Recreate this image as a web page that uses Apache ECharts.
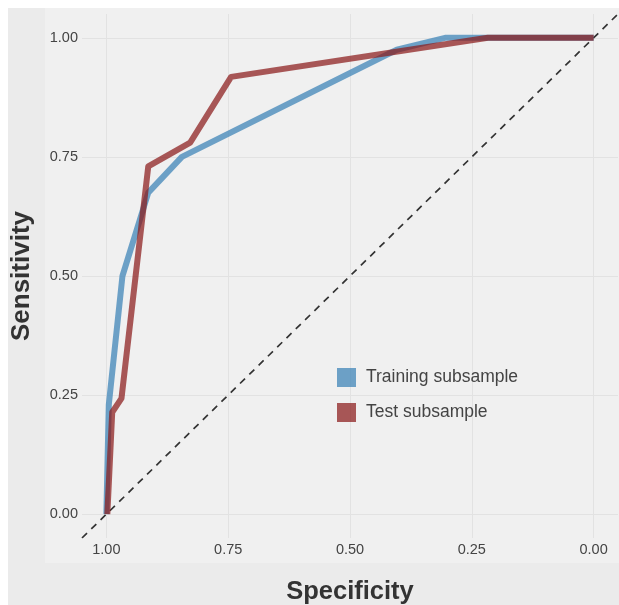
<!DOCTYPE html>
<html>
<head>
<meta charset="utf-8">
<script src="https://cdn.jsdelivr.net/npm/echarts@6/dist/echarts.min.js"></script>
<style>
  html, body { margin: 0; padding: 0; background: #fff; }
  #chart { width: 619px; height: 605px; }
</style>
</head>
<body>
<div id="chart"></div>
<script>
// [specificity, sensitivity] pairs
const trainingPoints = [
  [1.00, 0.00], [0.995, 0.23], [0.967, 0.50], [0.914, 0.675],
  [0.845, 0.75], [0.404, 0.975], [0.305, 1.00], [0.00, 1.00]
];
const testPoints = [
  [0.998, 0.00], [0.988, 0.214], [0.969, 0.243], [0.914, 0.73],
  [0.828, 0.78], [0.744, 0.918], [0.217, 1.00], [0.00, 1.00]
];
const chanceLine = [[1.05, -0.05], [-0.05, 1.05]];
const tickValues = [0, 0.25, 0.5, 0.75, 1];
const seriesNames = ["Training subsample", "Test subsample"];

const chart = echarts.init(document.getElementById("chart"));

chart.setOption({
  backgroundColor: "#fff",
  animation: false,
  graphic: [
    { type: "rect", z: -10, shape: { x: 8, y: 8, width: 611, height: 597 }, style: { fill: "#ebebeb" } },
    { type: "rect", z: -9, shape: { x: 45, y: 8, width: 574, height: 555 }, style: { fill: "#f0f0f0" } }
  ],
  grid: { left: 82, right: 1, top: 14, bottom: 67, outerBoundsMode: "none" },
  legend: {
    data: seriesNames,
    orient: "vertical",
    left: 332,
    top: 363,
    icon: "rect",
    itemWidth: 19,
    itemHeight: 19,
    itemGap: 16,
    textStyle: { fontFamily: "Liberation Sans", fontSize: 17.5, color: "#444", padding: [0, 0, 0, 5] }
  },
  xAxis: {
    type: "value",
    inverse: true,
    min: -0.05,
    max: 1.05,
    name: "Specificity",
    nameLocation: "middle",
    nameGap: 41,
    nameTextStyle: { fontFamily: "Liberation Sans", fontSize: 25.5, fontWeight: "bold", color: "#333" },
    axisLine: { show: false },
    axisTick: { show: false, customValues: tickValues },
    axisLabel: {
      customValues: tickValues,
      margin: 4,
      fontFamily: "Liberation Sans",
      fontSize: 14.5,
      color: "#444",
      formatter: v => v.toFixed(2)
    },
    splitLine: { show: true, lineStyle: { color: "#e2e2e2", width: 1 } }
  },
  yAxis: {
    type: "value",
    min: -0.05,
    max: 1.05,
    name: "Sensitivity",
    nameLocation: "middle",
    nameGap: 47,
    nameTextStyle: { fontFamily: "Liberation Sans", fontSize: 26, fontWeight: "bold", color: "#333" },
    axisLine: { show: false },
    axisTick: { show: false, customValues: tickValues },
    axisLabel: {
      customValues: tickValues,
      margin: 4,
      fontFamily: "Liberation Sans",
      fontSize: 14.5,
      color: "#444",
      formatter: v => v.toFixed(2)
    },
    splitLine: { show: true, lineStyle: { color: "#e2e2e2", width: 1 } }
  },
  series: [
    {
      name: "chance",
      type: "line",
      data: chanceLine,
      symbol: "none",
      silent: true,
      z: 1,
      lineStyle: { color: "#333", width: 1.7, type: [7, 6] }
    },
    {
      name: seriesNames[0],
      type: "line",
      data: trainingPoints,
      symbol: "none",
      z: 2,
      itemStyle: { color: "rgba(75,140,187,0.8)" },
      lineStyle: { color: "rgba(75,140,187,0.8)", width: 6, join: "round" }
    },
    {
      name: seriesNames[1],
      type: "line",
      data: testPoints,
      symbol: "none",
      z: 3,
      itemStyle: { color: "rgba(139,26,26,0.72)" },
      lineStyle: { color: "rgba(139,26,26,0.72)", width: 6, join: "round" }
    }
  ]
});
</script>
</body>
</html>
